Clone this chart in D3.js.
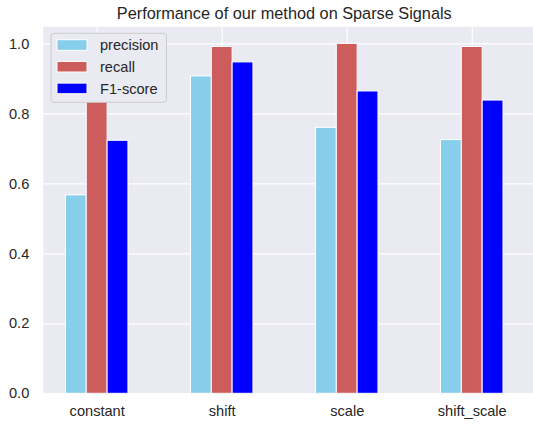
<!DOCTYPE html>
<html>
<head>
<meta charset="utf-8">
<script src="https://cdn.jsdelivr.net/npm/d3@7"></script>
<style>
  body { margin: 0; background: #fff; }
  svg { font-family: "Liberation Sans", Arial, sans-serif; }
</style>
</head>
<body>
<div id="chart"></div>
<script>
// chart data
const categories = ['constant', 'shift', 'scale', 'shift_scale'];
const seriesNames = ['precision', 'recall', 'F1-score'];
const precision = [0.567, 0.907, 0.760, 0.725];
const recall = [1.0, 0.991, 1.0, 0.991];
const f1 = [0.723, 0.947, 0.864, 0.838];
const yTicks = [0, 0.2, 0.4, 0.6, 0.8, 1.0];
const colors = ['#87CEEB', '#CD5C5C', '#0000FF'];

const series = [precision, recall, f1];

const config = {
  width: 533,
  height: 424,
  margin: { top: 26.7, right: 0, bottom: 30.7, left: 43.3 },
  barWidth: 0.5 / 3,
};

const innerW = config.width - config.margin.left - config.margin.right;
const innerH = config.height - config.margin.top - config.margin.bottom;

const svg = d3.select('#chart').append('svg')
  .attr('width', config.width)
  .attr('height', config.height);

const chartArea = svg.append('g')
  .attr('transform', `translate(${config.margin.left},${config.margin.top})`);

// scales
const xScale = d3.scaleLinear()
  .domain([-0.427, 3.49])
  .range([0, innerW]);

const yScale = d3.scaleLinear()
  .domain([0, 1.0476])
  .range([innerH, 0]);

// background
chartArea.append('rect')
  .attr('width', innerW)
  .attr('height', innerH)
  .attr('fill', '#EAEAF2');

// grid lines
const yAxis = d3.axisLeft(yScale)
  .tickValues(yTicks)
  .tickFormat(d3.format('.1f'))
  .tickSize(-innerW)
  .tickPadding(14);

const yAxisG = chartArea.append('g').call(yAxis);
yAxisG.select('.domain').remove();
yAxisG.selectAll('.tick line').attr('stroke', '#fff').attr('stroke-width', 1.2);
yAxisG.selectAll('.tick text')
  .attr('fill', '#262626')
  .style('font-size', '14.6px');

const xAxis = d3.axisBottom(xScale)
  .tickValues(d3.range(categories.length))
  .tickFormat((d, i) => categories[i])
  .tickSize(-innerH)
  .tickPadding(12);

const xAxisG = chartArea.append('g')
  .attr('transform', `translate(0,${innerH})`)
  .call(xAxis);
xAxisG.select('.domain').remove();
xAxisG.selectAll('.tick line').attr('stroke', '#fff').attr('stroke-width', 1.2);
xAxisG.selectAll('.tick text')
  .attr('fill', '#262626')
  .style('font-size', '14.6px');

// bars
series.forEach((vals, s) => {
  const offset = (s - 1) * config.barWidth;
  chartArea.append('g')
    .selectAll('rect')
    .data(vals)
    .join('rect')
    .attr('x', (d, i) => xScale(i + offset - config.barWidth / 2))
    .attr('width', xScale(config.barWidth) - xScale(0))
    .attr('y', (d) => yScale(d))
    .attr('height', (d) => yScale(0) - yScale(d))
    .attr('fill', colors[s])
    .attr('stroke', '#fff')
    .attr('stroke-width', 1);
});

// legend
const legend = chartArea.append('g')
  .attr('transform', 'translate(7.7,6.6)');

legend.append('rect')
  .attr('width', 115.5)
  .attr('height', 69)
  .attr('rx', 3)
  .attr('fill', '#EAEAF2')
  .attr('stroke', '#cccccc')
  .attr('stroke-width', 1);

const items = legend.selectAll('g.item')
  .data(seriesNames)
  .join('g')
  .attr('class', 'item')
  .attr('transform', (d, i) => `translate(6,${11.7 + i * 21.7})`);

items.append('rect')
  .attr('x', 0)
  .attr('y', -5.3)
  .attr('width', 30)
  .attr('height', 10.6)
  .attr('fill', (d, i) => colors[i])
  .attr('stroke', '#fff')
  .attr('stroke-width', 1);

items.append('text')
  .attr('x', 43)
  .attr('dy', '0.35em')
  .attr('fill', '#262626')
  .style('font-size', '14.6px')
  .text((d) => d);

// title
svg.append('text')
  .attr('x', 284.3)
  .attr('y', 18.5)
  .attr('text-anchor', 'middle')
  .attr('fill', '#262626')
  .style('font-size', '16.3px')
  .text('Performance of our method on Sparse Signals');
</script>
</body>
</html>
